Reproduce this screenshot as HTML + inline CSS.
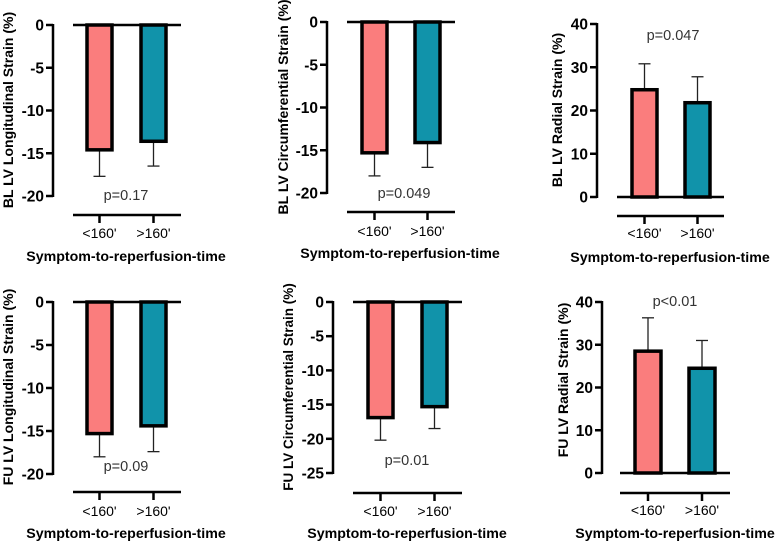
<!DOCTYPE html>
<html><head><meta charset="utf-8"><style>
html,body{margin:0;padding:0;background:#fff;}
svg{display:block;font-family:"Liberation Sans",Arial,sans-serif;}
</style></head><body>
<svg id="chart" width="777" height="545" viewBox="0 0 777 545"></svg>
<script>
const categories = ["<160'", ">160'"];
const panelTitles = ["BL LV Longitudinal Strain (%)","BL LV Circumferential Strain (%)","BL LV Radial Strain (%)","FU LV Longitudinal Strain (%)","FU LV Circumferential Strain (%)","FU LV Radial Strain (%)"];
const meanValues = [[-14.6,-13.6],[-15.3,-14.1],[24.8,21.8],[-15.3,-14.4],[-16.9,-15.3],[28.5,24.5]];
const errorValues = [[-17.7,-16.5],[-18.0,-17.0],[30.8,27.8],[-18.0,-17.4],[-20.2,-18.5],[36.3,31.0]];
const tickLabels = [[0,-5,-10,-15,-20],[0,-5,-10,-15,-20],[0,10,20,30,40],[0,-5,-10,-15,-20],[0,-5,-10,-15,-20,-25],[0,10,20,30,40]];
const pLabels = ["p=0.17","p=0.049","p=0.047","p=0.09","p=0.01","p<0.01"];
const xTitle = "Symptom-to-reperfusion-time";

// layout (pixels)
const layout = [
 {ax:53, yTop:25, yBot:196, vTop:0, vBot:-20, b:[87,141], bw:25, px:126, py:200, xl:215, xl0:73, xl1:181, ty:233, tty:256, tcx:126, ytx:8, yty:110, ts:14},
 {ax:327, yTop:22, yBot:193, vTop:0, vBot:-20, b:[362,415], bw:25, px:404, py:198, xl:212, xl0:347, xl1:455, ty:231, tty:253, tcx:400, ytx:283, yty:107, ts:14},
 {ax:597, yTop:24, yBot:197, vTop:40, vBot:0, b:[632,685], bw:25, px:673, py:40, xl:216, xl0:617, xl1:724, ty:233, tty:257, tcx:670, ytx:557, yty:110, ts:14},
 {ax:53, yTop:302, yBot:474, vTop:0, vBot:-20, b:[87,141], bw:25, px:126, py:471, xl:492, xl0:73, xl1:181, ty:511, tty:533, tcx:126, ytx:8, yty:387, ts:14},
 {ax:333, yTop:302, yBot:473, vTop:0, vBot:-25, b:[368,422], bw:25, px:407, py:465, xl:493, xl0:353, xl1:462, ty:511, tty:533, tcx:407, ytx:288, yty:387, ts:13.5},
 {ax:602, yTop:302, yBot:473, vTop:40, vBot:0, b:[635,689], bw:26, px:675, py:306, xl:493, xl0:620, xl1:730, ty:510, tty:533, tcx:675, ytx:563, yty:380, ts:14}
];
const colors = ["#fa7d7d","#1193aa"];
const NS = "http://www.w3.org/2000/svg";
const svg = document.getElementById('chart');
function mk(tag, attrs, parent, text){
  const e = document.createElementNS(NS, tag);
  for (const k in attrs) e.setAttribute(k, attrs[k]);
  if (text !== undefined) e.textContent = text;
  parent.appendChild(e);
  return e;
}
layout.forEach((L, i) => {
  const g = mk('g', {}, svg);
  
  
  const y = v => L.yTop + (L.vTop - v) / (L.vTop - L.vBot) * (L.yBot - L.yTop);
  const ax = mk('line', {x1:L.ax, y1:L.yTop-1, x2:L.ax, y2:L.yBot+1, stroke:'#000','stroke-width':2.5}, g);
  
  
  tickLabels[i].forEach(t => {
    const ty = y(t);
    const tk = mk('line', {x1:L.ax-7, y1:ty, x2:L.ax, y2:ty, stroke:'#000','stroke-width':2.5}, g);
    
    
    const tl = mk('text', {x:L.ax-9, y:ty+5.5, 'text-anchor':'end','font-size':15.5,'font-weight':'bold'}, g, String(t));
    
    
  });
  const yt = mk('text', {x:0, y:0, 'text-anchor':'middle','font-size':L.ts,'font-weight':'bold', transform:`translate(${L.ytx+5},${L.yty}) rotate(-90)`}, g, panelTitles[i]);
  
  
  const y0 = y(0);
  categories.forEach((c, j) => {
    const v = meanValues[i][j], e = errorValues[i][j];
    const bx = L.b[j], cx = bx + L.bw/2;
    const el = mk('line', {x1:cx, y1:y(v), x2:cx, y2:y(e), stroke:'#222','stroke-width':1.3}, g);
    
    
    const cap = mk('line', {x1:cx-6, y1:y(e), x2:cx+6, y2:y(e), stroke:'#222','stroke-width':1.3}, g);
    
    
    const top = Math.min(y(v), y0), h = Math.abs(y(v) - y0);
    const r = mk('rect', {x:bx, y:top, width:L.bw, height:h, fill:colors[j], stroke:'#000','stroke-width':3.5}, g);
    
    
    const xt = mk('line', {x1:cx, y1:L.xl, x2:cx, y2:L.xl+8, stroke:'#000','stroke-width':2.5}, g);
    
    
    const xl = mk('text', {x:cx, y:L.ty+5, 'text-anchor':'middle','font-size':14}, g, c);
    
    
  });
  const zl = mk('line', {x1:L.xl0, y1:y0, x2:L.xl1, y2:y0, stroke:'#000','stroke-width':2.5}, g);
  
  
  const xa = mk('line', {x1:L.xl0, y1:L.xl, x2:L.xl1, y2:L.xl, stroke:'#000','stroke-width':2.5}, g);
  
  
  const p = mk('text', {x:L.px, y:L.py, 'text-anchor':'middle','font-size':14.5, fill:'#333'}, g, pLabels[i]);
  
  
  const xtt = mk('text', {x:L.tcx, y:L.tty+5, 'text-anchor':'middle','font-size':14.2,'font-weight':'bold'}, g, xTitle);
  
  
});
</script>
</body></html>
